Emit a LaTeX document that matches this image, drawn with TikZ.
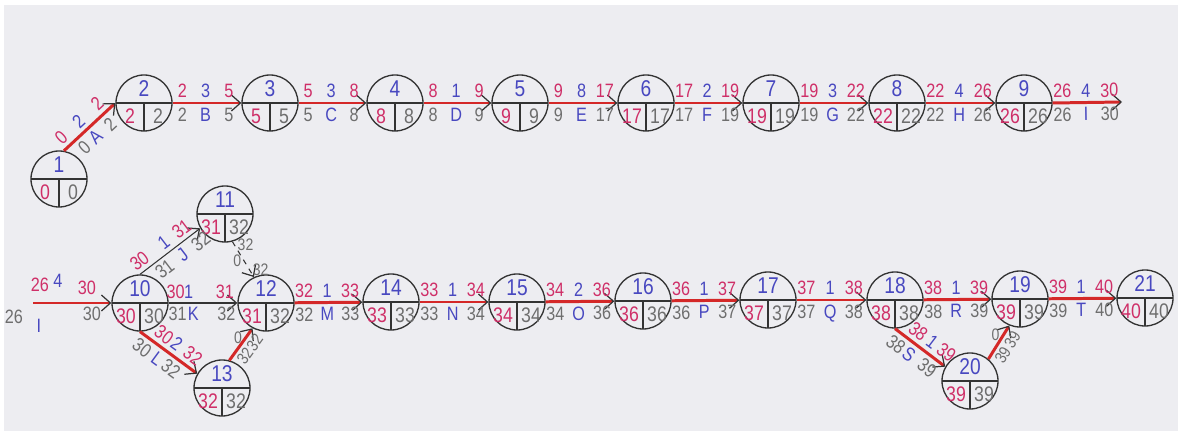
\documentclass[tikz,border=0pt]{standalone}
\usepackage{fontspec}
\setmainfont{Liberation Sans}[FakeStretch=0.84]
\usepackage{tikz}
\usetikzlibrary{arrows.meta, calc}
\definecolor{esred}{HTML}{CF2F68}
\definecolor{durblue}{HTML}{4848C0}
\definecolor{lsgray}{HTML}{6E6E6E}
\definecolor{critred}{HTML}{D42828}
\definecolor{ink}{HTML}{333333}
\definecolor{paper}{HTML}{EDEDF1}

% event circle: name, position, number, ES, LS
\newcommand{\event}[5]{%
  \node[event] (#1) at (#2) {};
  \node[evnum] (#1-num) at ($(#1)+(0,-14)$) {#3};
  \node[evES]  (#1-es)  at ($(#1)+(-14,13)$) {#4};
  \node[evLS]  (#1-ls)  at ($(#1)+(14,13)$)  {#5};
}
% activity: from, to, style, ES, duration, EF, LS, letter, LF
\newcommand{\activity}[9]{%
  \draw[#3] (#1) -- node[esef, pa] (#8-es) {#4}
                    node[dur,  pb] (#8-d)  {#5}
                    node[esef, pc] (#8-ef) {#6}
                    node[lslf, qa] (#8-ls) {#7}
                    node[act,  qb] (#8-a)  {#8}
                    node[lslf, qc] (#8-lf) {#9} (#2);
}

\begin{document}
\begin{tikzpicture}[
  x=0.2mm, y=-0.2mm,
  font=\fontsize{11}{13}\selectfont,
  event/.style={circle, draw=ink, line width=0.75pt, minimum size=11.2mm,
                inner sep=0pt,
                path picture={\draw[ink, line width=0.75pt]
                  (path picture bounding box.west) -- (path picture bounding box.east)
                  (path picture bounding box.center) -- (path picture bounding box.south);}},
  evnum/.style={text=durblue, font=\fontsize{13}{15}\selectfont, inner sep=0pt},
  evES/.style={text=esred, font=\fontsize{12}{14}\selectfont, inner sep=0pt},
  evLS/.style={text=lsgray, font=\fontsize{12}{14}\selectfont, inner sep=0pt},
  crit/.style={draw=critred, line width=1.7pt,
               -{Straight Barb[length=1.8mm, width=3.2mm, color=ink, line width=0.7pt]}},
  plain/.style={draw=ink, line width=0.6pt,
               -{Straight Barb[length=1.8mm, width=3.2mm, color=ink, line width=0.7pt]}},
  dummy/.style={plain, dashed},
  esef/.style={above, sloped, text=esred, inner sep=2pt},
  dur/.style={above, sloped, text=durblue, inner sep=2pt},
  lslf/.style={below, sloped, text=lsgray, inner sep=2pt},
  act/.style={below, sloped, text=durblue, inner sep=2pt},
  dum/.style={text=lsgray, font=\fontsize{9.5}{11}\selectfont, inner sep=1.5pt},
  pa/.style={pos=.14}, pb/.style={pos=.48}, pc/.style={pos=.82},
  qa/.style={pos=.14}, qb/.style={pos=.48}, qc/.style={pos=.82}
]
\useasboundingbox (0,0) rectangle (1178,431);
% paper
\fill[white] (0,0) rectangle (1178,431);
\fill[paper] (4,5) rectangle (1178,431);
% Upper row of events
\event{n1}{59,179}{1}{0}{0}
\event{n2}{144,103}{2}{2}{2}
\event{n3}{270,103}{3}{5}{5}
\event{n4}{395,103}{4}{8}{8}
\event{n5}{520,103}{5}{9}{9}
\event{n6}{646,103}{6}{17}{17}
\event{n7}{771,103}{7}{19}{19}
\event{n8}{897,103}{8}{22}{22}
\event{n9}{1024,103}{9}{26}{26}
\coordinate (iend) at (1122,102);
% Lower row of events
\event{n10}{140,303}{10}{30}{30}
\event{n11}{225,214}{11}{31}{32}
\event{n12}{266,303}{12}{31}{32}
\event{n13}{222,388}{13}{32}{32}
\event{n14}{391,302}{14}{33}{33}
\event{n15}{517,302}{15}{34}{34}
\event{n16}{643,301}{16}{36}{36}
\event{n17}{768,300}{17}{37}{37}
\event{n18}{895,300}{18}{38}{38}
\event{n19}{1020,299}{19}{39}{39}
\event{n20}{970,381}{20}{39}{39}
\event{n21}{1145,298}{21}{40}{40}
\coordinate (istart) at (33,303);
% Activities, upper row
\activity{n1.80}{n2.west}{crit, pa/.style={pos=.1}, pb/.style={pos=.44}, pc/.style={pos=.8},
  qa/.style={pos=.24}, qb/.style={pos=.46}, qc/.style={pos=.74}}{0}{2}{2}{0}{A}{2}
\activity{n2}{n3}{crit}{2}{3}{5}{2}{B}{5}
\activity{n3}{n4}{crit}{5}{3}{8}{5}{C}{8}
\activity{n4}{n5}{crit}{8}{1}{9}{8}{D}{9}
\activity{n5}{n6}{crit}{9}{8}{17}{9}{E}{17}
\activity{n6}{n7}{crit}{17}{2}{19}{17}{F}{19}
\activity{n7}{n8}{crit}{19}{3}{22}{19}{G}{22}
\activity{n8}{n9}{crit}{22}{4}{26}{22}{H}{26}
\activity{n9.east}{iend}{crit}{26}{4}{30}{26}{I}{30}
% I carried over to the lower row
\draw[crit] (istart) -- (n10.west);
\node[text=esred]   (Ib-es) at (40,285) {26};
\node[text=durblue] (Ib-d)  at (58,281) {4};
\node[text=esred]   (Ib-ef) at (87,288) {30};
\node[text=lsgray]  (Ib-ls) at (14,317) {26};
\node[text=durblue] (Ib-a)  at (39,326) {I};
\node[text=lsgray]  (Ib-lf) at (92,314) {30};
% Activities, lower row
\activity{n10.north}{n11.-150}{plain, pa/.style={pos=.1}, pb/.style={pos=.5}, pc/.style={pos=.8},
  qa/.style={pos=.3}, qb/.style={pos=.6}, qc/.style={pos=.9}}{30}{1}{31}{31}{J}{32}
\activity{n10}{n12}{plain, pa/.style={pos=.1}, pb/.style={pos=.29},
  qa/.style={pos=.13}, qb/.style={pos=.36}, qc/.style={pos=.84}}{30}{1}{31}{31}{K}{32}
\activity{n10.south}{n13.150}{crit, pa/.style={pos=.3}, pb/.style={pos=.52}, pc/.style={pos=.8},
  qa/.style={pos=.16}, qb/.style={pos=.42}, qc/.style={pos=.66}}{30}{2}{32}{30}{L}{32}
\draw[dummy] (n11.-75) -- node[dum, pos=.1, right] (d1-ls) {32}
                          node[dum, pos=.55, left] (d1-d) {0}
                          node[dum, pos=.8, right] (d1-lf) {32} (n12.115);
\draw[crit] (n13.75) -- node[dum, pos=.72, left] (d2-d) {0}
                        node[dum, pos=.32, below, sloped] (d2-ls) {32}
                        node[dum, pos=.74, below, sloped] (d2-lf) {32} (n12.-118);
\activity{n12}{n14}{crit}{32}{1}{33}{32}{M}{33}
\activity{n14}{n15}{crit}{33}{1}{34}{33}{N}{34}
\activity{n15}{n16}{crit}{34}{2}{36}{34}{O}{36}
\activity{n16}{n17}{crit}{36}{1}{37}{36}{P}{37}
\activity{n17}{n18}{crit}{37}{1}{38}{37}{Q}{38}
\activity{n18}{n19}{crit}{38}{1}{39}{38}{R}{39}
\activity{n18.south}{n20.150}{crit, pa/.style={pos=.32}, pb/.style={pos=.6}, pc/.style={pos=.88},
  qa/.style={pos=.16}, qb/.style={pos=.42}, qc/.style={pos=.78}}{38}{1}{39}{38}{S}{39}
\draw[crit] (n20.50) -- node[dum, pos=.72, left] (d3-d) {0}
                        node[dum, pos=.28, below, sloped] (d3-ls) {39}
                        node[dum, pos=.74, below, sloped] (d3-lf) {39} (n19.-112);
\activity{n19}{n21}{crit}{39}{1}{40}{39}{T}{40}
\end{tikzpicture}
\end{document}
